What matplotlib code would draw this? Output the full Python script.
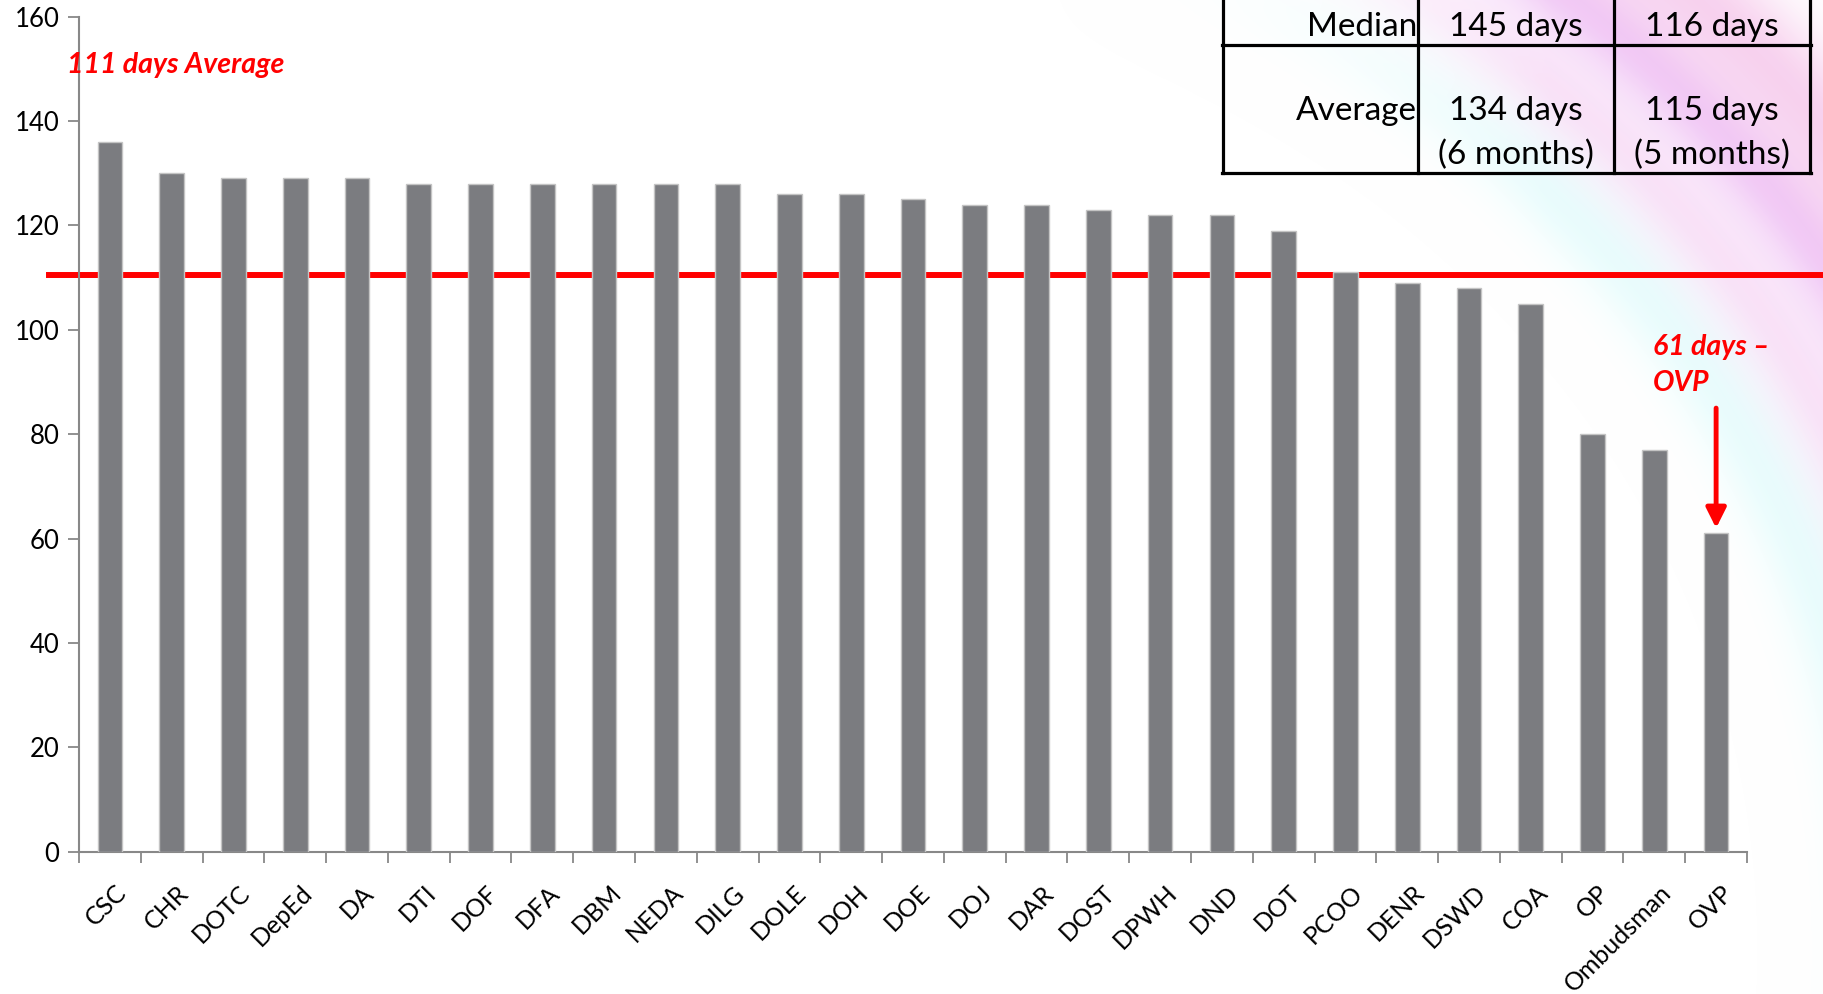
import numpy as np
import matplotlib
matplotlib.use("Agg")
import matplotlib.pyplot as plt
import matplotlib.transforms as mtransforms

plt.rcParams['font.family'] = ['Lato', 'DejaVu Sans']

# agencies and processing days
agencies = ['CSC', 'CHR', 'DOTC', 'DepEd', 'DA', 'DTI', 'DOF', 'DFA', 'DBM', 'NEDA',
            'DILG', 'DOLE', 'DOH', 'DOE', 'DOJ', 'DAR', 'DOST', 'DPWH', 'DND', 'DOT',
            'PCOO', 'DENR', 'DSWD', 'COA', 'OP', 'Ombudsman', 'OVP']
days = [136, 130, 129, 129, 129, 128, 128, 128, 128, 128,
        128, 126, 126, 125, 124, 124, 123, 122, 122, 119,
        111, 109, 108, 105, 80, 77, 61]
average_days = 110.5
yticks = [0, 20, 40, 60, 80, 100, 120, 140, 160]

table_rows = ['Median', 'Average']
table_col1 = ['145 days', '134 days\n(6 months)']
table_col2 = ['116 days', '115 days\n(5 months)']

W, H = 1823, 994
fig = plt.figure(figsize=(W / 100, H / 100), dpi=100)

# soft swirl decoration in the upper right corner
bg = fig.add_axes([0, 0, 1, 1], zorder=-10)
bg.axis('off')
yy, xx = np.mgrid[0:H, 0:W]
r = np.hypot(xx - 850, yy - 950)
img = np.ones((H, W, 4))
img[..., 3] = 0
def band(r0, width, color, strength):
    a = strength * np.exp(-((r - r0) / width) ** 2)
    a *= np.clip((xx - 1050) / 500, 0, 1)
    c = np.array(matplotlib.colors.to_rgb(color))
    out = img[..., 3:4]
    img[..., :3] = img[..., :3] * (1 - a[..., None]) + c * a[..., None]
    img[..., 3] = np.clip(out[..., 0] + a, 0, 1)
band(1030, 55, '#c4fafa', 0.6)
band(1110, 45, '#f6c2f0', 0.6)
band(1190, 50, '#e6a0f2', 0.65)
band(1280, 70, '#f2a8e0', 0.7)
bg.imshow(img, extent=[0, W, H, 0], aspect='auto')
bg.set_xlim(0, W)
bg.set_ylim(H, 0)

ax = fig.add_axes([79 / W, 1 - 851.7 / H, (1747 - 79) / W, (851.7 - 16.7) / H])
ax.patch.set_alpha(0)
x = np.arange(len(agencies))
ax.bar(x, days, width=0.4, color='#7b7c80', edgecolor='#c4c4c4', linewidth=1, zorder=3)
ax.set_xlim(-0.5, len(agencies) - 0.5)
ax.set_ylim(0, 160)
ax.set_yticks(yticks)
ax.tick_params(axis='y', labelsize=18.5, length=8, width=1.3, color='#888888', pad=6)
ax.set_xticks(x)
ax.set_xticklabels(agencies, rotation=45, ha='right', rotation_mode='anchor', fontsize=18)
ax.tick_params(axis='x', length=0, pad=21)
ax.set_xticks(np.arange(len(agencies) + 1) - 0.5, minor=True)
ax.tick_params(axis='x', which='minor', length=8, width=1.3, color='#888888')
for s in ['top', 'right']:
    ax.spines[s].set_visible(False)
for s in ['left', 'bottom']:
    ax.spines[s].set_color('#888888')
    ax.spines[s].set_linewidth(1.5)
for lab in ax.get_xticklabels():
    lab.set_transform(lab.get_transform() + mtransforms.ScaledTranslation(0.05, 0, fig.dpi_scale_trans))

# average line across the whole slide
tr = mtransforms.blended_transform_factory(fig.transFigure, ax.transData)
ax.plot([49 / W, 1821 / W], [average_days, average_days], color='#ff0000', lw=4.3,
        transform=tr, clip_on=False, zorder=2)
fig.text(67 / W, 1 - 65 / H, '111 days Average', color='#ff0000', fontsize=20.5,
         fontweight='bold', fontstyle='italic', va='center', ha='left')

# OVP callout
fig.text(1653 / W, 1 - 347 / H, '61 days \u2013', color='#ff0000', fontsize=20.5,
         fontweight='bold', fontstyle='italic', va='center', ha='left')
fig.text(1653 / W, 1 - 383 / H, 'OVP', color='#ff0000', fontsize=20.5,
         fontweight='bold', fontstyle='italic', va='center', ha='left')
ax.annotate('', xy=(len(agencies) - 1, days[-1] + 1), xytext=(len(agencies) - 1, 85),
            arrowprops=dict(arrowstyle='-|>', color='#ff0000', lw=3.5,
                            mutation_scale=30, shrinkA=0, shrinkB=0), zorder=5)

# summary table in the top right corner
xl, xc1, xc2, xr = 1223, 1418, 1614, 1810
ymid, ybot = 45, 173
lk = dict(color='black', lw=2.3, transform=fig.transFigure, clip_on=False)
for xv in [xl, xc1, xc2, xr]:
    fig.add_artist(plt.Line2D([xv / W, xv / W], [1, 1 - ybot / H], **lk))
for yv in [ymid, ybot]:
    fig.add_artist(plt.Line2D([(xl - 1) / W, (xr + 1) / W], [1 - yv / H, 1 - yv / H], **lk))
row_y = [26.5, 110.5]
for i, name in enumerate(table_rows):
    fig.text((xc1 - 1) / W, 1 - row_y[i] / H, name, fontsize=24, ha='right', va='center')
for i in range(2):
    for xv, col in [((xc1 + xc2) / 2, table_col1), ((xc2 + xr) / 2, table_col2)]:
        lines = col[i].split('\n')
        for j, t in enumerate(lines):
            fig.text(xv / W, 1 - (row_y[i] + 44 * j) / H, t, fontsize=24,
                     ha='center', va='center')

fig.savefig('out.png', dpi=100)
